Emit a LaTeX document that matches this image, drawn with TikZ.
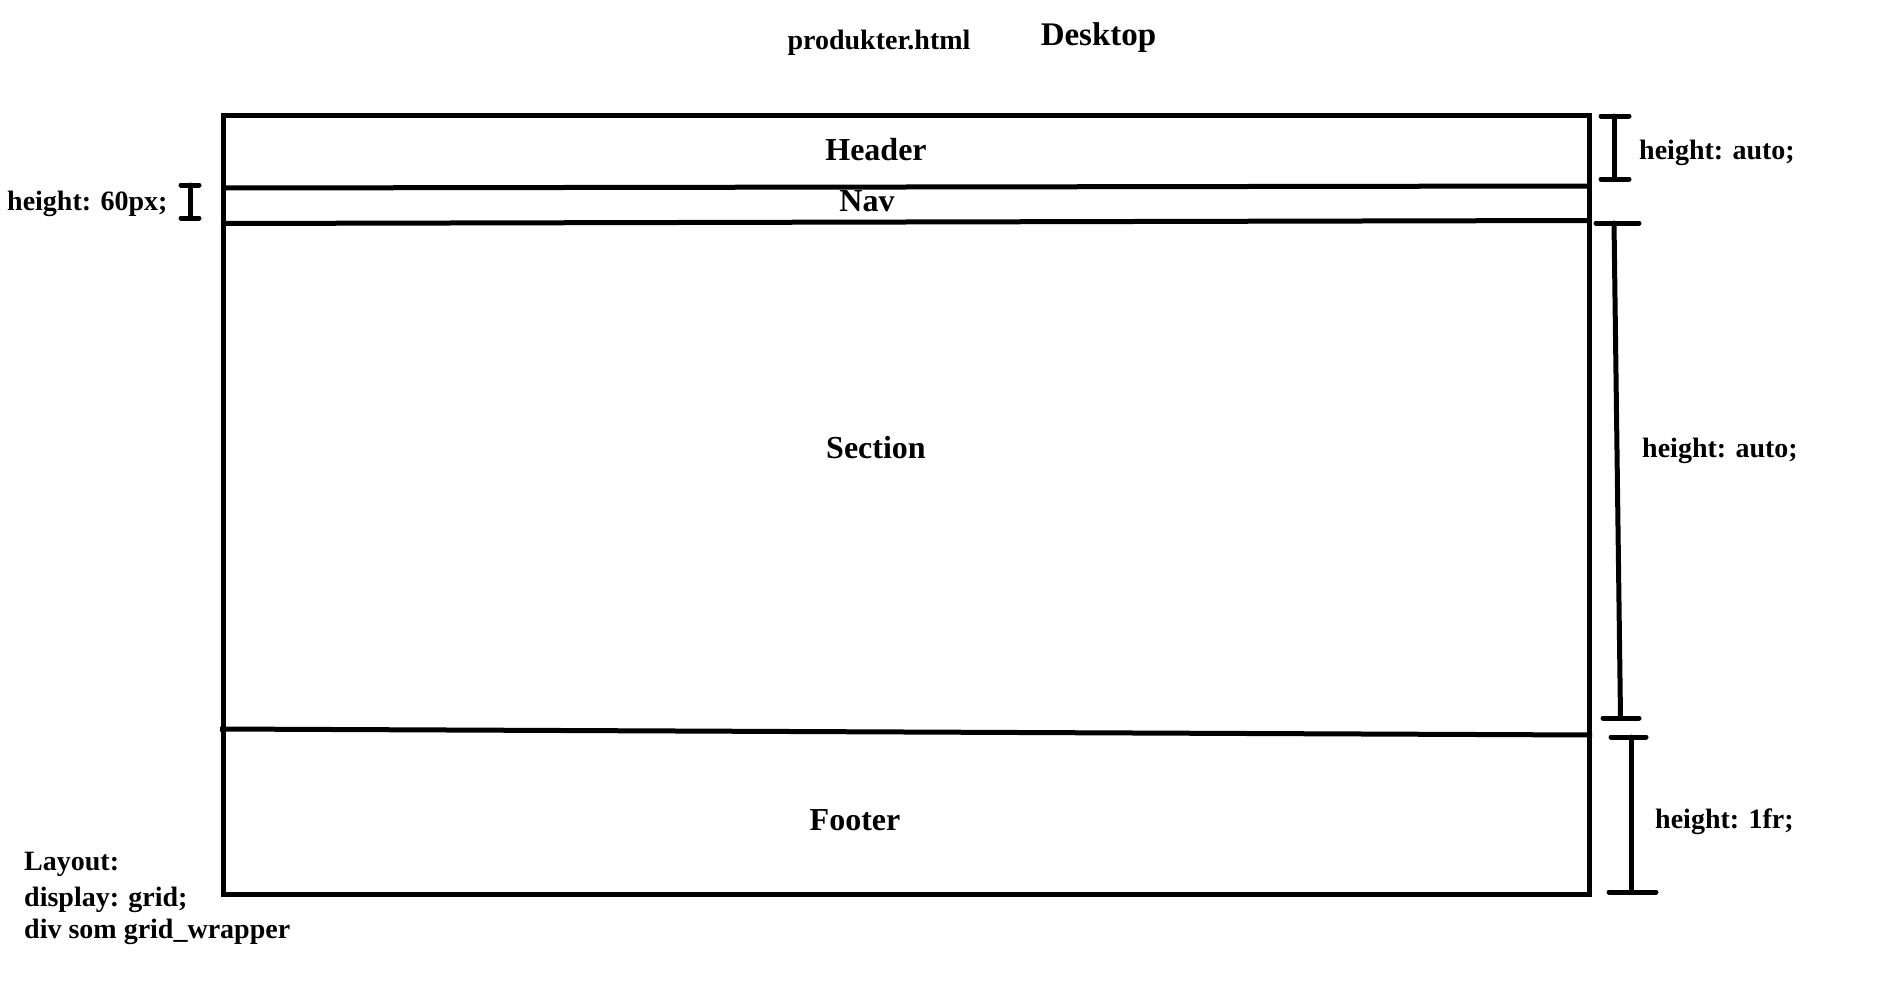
\documentclass[tikz,border=0pt]{standalone}
\usepackage{fontspec}
\setmainfont{Liberation Serif}
\begin{document}
\begin{tikzpicture}[x=1pt,y=-1pt,
  frame/.style={line width=5pt},
  sep/.style={line width=5pt},
  bracket/.style={line width=5pt,line cap=round},
  lbl/.style={inner sep=0pt,anchor=base west,font=\bfseries\fontsize{28}{34}\selectfont},
  title/.style={inner sep=0pt,anchor=base,font=\bfseries\fontsize{32}{38}\selectfont}]
\useasboundingbox[fill=white] (0,0) rectangle (1886,982);
% outer frame
\coordinate (tl) at (223.5,115.5);
\coordinate (br) at (1589,894.5);
\draw[frame] (tl) rectangle (br);
% separators
\coordinate (hl) at (221,188);  \coordinate (hr) at (1589,186);
\coordinate (nl) at (221,223.5);\coordinate (nr) at (1589,220.5);
\coordinate (fl) at (220,729);  \coordinate (fr) at (1592,735);
\draw[sep] (hl) -- (hr);
\draw[sep] (nl) -- (nr);
\draw[sep] (fl) -- (fr);
% titles
\node[title,font=\bfseries\fontsize{28}{34}\selectfont] (file) at (879,49.3) {produkter.html};
\node[title,font=\bfseries\fontsize{33}{40}\selectfont] (desk) at (1098.5,46) {Desktop};
\node[title] (header) at (876,160) {Header};
\node[title] (nav) at (867,211.5) {Nav};
\node[title] (section) at (876,458) {Section};
\node[title] (footer) at (855,830) {Footer};
% brackets
\coordinate (b1t) at (1614,116); \coordinate (b1b) at (1614,179);
\draw[bracket] (1601,116) -- (1629,116);
\draw[bracket] (1601,179) -- (1629,179);
\draw[bracket] (b1t) -- (b1b);
\coordinate (b2t) at (1614,223); \coordinate (b2b) at (1620.5,718);
\draw[bracket] (1596,223) -- (1639,223);
\draw[bracket] (1603,718) -- (1639,718);
\draw[bracket] (b2t) -- (b2b);
\coordinate (b3t) at (1631.5,737); \coordinate (b3b) at (1631.5,892);
\draw[bracket] (1611,737) -- (1646,737);
\draw[bracket] (1609,892) -- (1656,892);
\draw[bracket] (b3t) -- (b3b);
\coordinate (b4t) at (190.5,185); \coordinate (b4b) at (190.5,218);
\draw[bracket] (181,185) -- (199,185);
\draw[bracket] (181,218) -- (199,218);
\draw[bracket] (b4t) -- (b4b);
% labels
\node[lbl] (l1) at (1639,159) {height: auto;};
\node[lbl] (l2) at (1642,457) {height: auto;};
\node[lbl] (l3) at (1655,828) {height: 1fr;};
\node[lbl] (l4) at (7,210) {height: 60px;};
\node[lbl] (lay1) at (24,870.7) {Layout:};
\node[lbl] (lay2) at (24,906) {display: grid;};
\node[lbl] (lay3) at (24,938.3) {div som grid\_wrapper};
\end{tikzpicture}
\end{document}
